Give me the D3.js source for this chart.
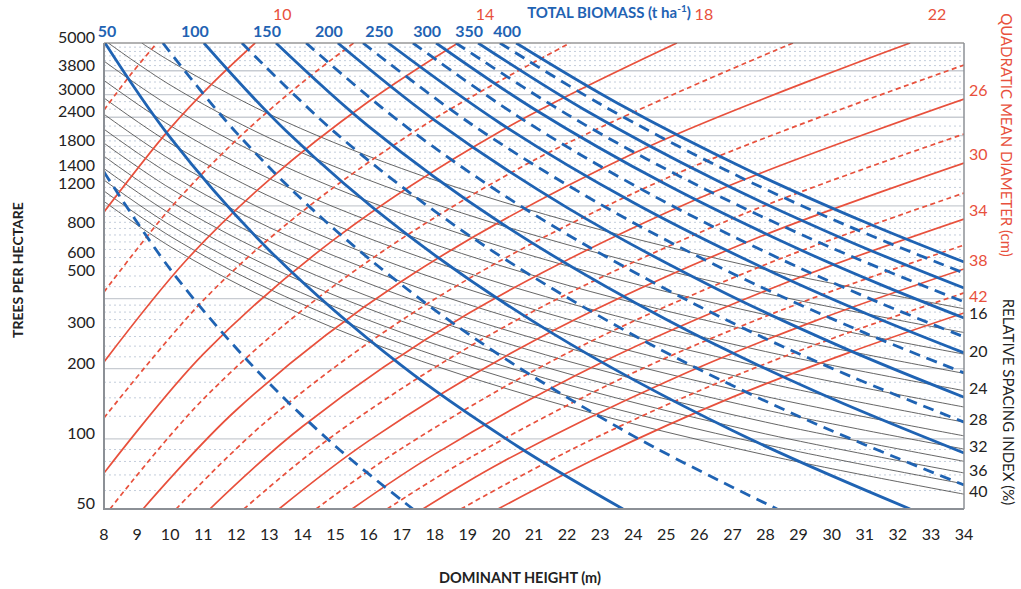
<!DOCTYPE html>
<html>
<head>
<meta charset="utf-8">
<script src="https://cdn.jsdelivr.net/npm/d3@7"></script>
<style>
  body { margin: 0; background: #fff; }
  svg text { font-family: Lato, "Open Sans", "Noto Sans", sans-serif; }
</style>
</head>
<body>
<svg id="chart" width="1021" height="589"></svg>
<script>
// Axis ticks
const heightTicks = [8,9,10,11,12,13,14,15,16,17,18,19,20,21,22,23,24,25,26,27,28,29,30,31,32,33,34];
const densityTicks = [5000,3800,3000,2400,1800,1400,1200,800,600,500,300,200,100,50];

// Horizontal reference lines (trees per hectare)
const gridMajor = [100,200,400,1000,2000,2400,3000,3800];
const gridMinor = [60,70,80,90,125,150,175,225,250,275,300,325,350,375,
  450,500,550,600,650,700,750,800,850,900,950,
  1100,1200,1300,1400,1500,1600,1700,1800,1900,2200,2600,2800,3200,3400,3600,4000,4200,4400,4600,4800];

// Quadratic mean diameter isolines (cm): points as [dominant height m, trees ha-1]
const diameterClasses = [8,10,12,14,16,18,20,22,24,26,28,30,32,34,36,38,40,42];
const diameterCurves = [
  [[8,2579],[8.8,3650],[9.6,5000]],
  [[8,941],[10,2150],[11.3,3380],[12.57,5000]],
  [[8,427],[10,975],[12,1916],[14,3390],[15.55,5000]],
  [[8,214],[10.5,587],[13,1297],[16,2803],[18.7,5000]],
  [[8,123],[11,393],[14,947],[18,2370],[22.09,5000]],
  [[8,71.3],[11,231],[15,725],[20,2095],[25.32,5000]],
  [[8.18,50],[11,148],[15,459],[21,1570],[28.83,5000]],
  [[9.18,50],[12,133],[17,475],[24,1676],[32.37,5000]],
  [[10.18,50],[13,122],[18,398],[25,1314],[34,4021]],
  [[11.2,50],[14,113],[19,344],[26,1080],[34,2875]],
  [[12.23,50],[15,105],[20,297],[27,882],[34,2034]],
  [[13.29,50],[16,98],[21,264],[27.5,705],[34,1527]],
  [[14.41,50],[17,91],[22,233],[28,560],[34,1135]],
  [[15.5,50],[18,86],[23,211],[28.5,461],[34,878]],
  [[16.56,50],[19,82],[24,192],[29,381],[34,679]],
  [[17.64,50],[20,79],[25,176],[29.5,321],[34,536]],
  [[18.79,50],[22,88],[26,161],[30,269],[34,423]],
  [[19.91,50],[23,84],[27,151],[30.5,234],[34,347]]
];
const diameterLabels = [10,14,18,22,26,30,34,38,42];

// Total biomass isolines (t ha-1)
const biomassClasses = [25,50,75,100,125,150,175,200,225,250,275,300,325,350,375,400];
const biomassCurves = [
  [[8,1397],[10,535],[12.5,205],[15,93],[17.34,50]],
  [[8.03,5000],[10,1966],[13,644],[17,206],[20.5,93],[23.69,50]],
  [[9.78,5000],[12,2063],[15,786],[19,283],[24,103],[28.35,50]],
  [[11.02,5000],[13.5,2100],[17,784],[21.5,287],[27,108.5],[32.37,50]],
  [[12.17,5000],[15,2056],[19,753],[24,279],[29,125],[34,63.4]],
  [[13.2,5000],[16,2194],[20,844],[25,325],[29.5,160],[34,87]],
  [[14.11,5000],[17,2261],[21,919],[26,370],[30,201],[34,118]],
  [[15.07,5000],[18,2329],[22,983],[26.5,442],[30.5,241],[34,151]],
  [[15.83,5000],[19,2296],[23,1017],[27,513],[31,285],[34,192]],
  [[16.59,5000],[20,2252],[24,1034],[28,536],[31,347],[34,234]],
  [[17.34,5000],[20.5,2429],[24.5,1126],[28.5,587],[31.5,381],[34,274]],
  [[18.04,5000],[21,2606],[25,1234],[29,653],[31.5,458],[34,330]],
  [[18.64,5000],[22,2470],[26,1213],[30,660],[34,387]],
  [[19.31,5000],[22.5,2598],[26.5,1290],[30.5,707],[34,444]],
  [[19.97,5000],[23,2735],[27,1378],[30.5,819],[34,515]],
  [[20.46,5000],[23.5,2772],[27.5,1419],[31,852],[34,574]]
];
const biomassLabels = [50,100,150,200,250,300,350,400];

// Relative spacing index isolines (%)
const spacingClasses = [16,18,20,22,24,26,28,30,32,34,36,38,40];
const spacingCurves = [
  [[9.14,5000],[10,4180],[13,2473],[17,1446],[22,864],[28,533],[34,362]],
  [[8.13,5000],[10,3302],[13,1954],[17,1143],[22,682],[28,421],[34,286]],
  [[8,4180],[10,2675],[13,1583],[17,926],[22,553],[28,341],[34,231]],
  [[8,3454],[10,2211],[13,1308],[17,765],[22,457],[28,282],[34,191]],
  [[8,2903],[10,1858],[13,1099],[17,643],[22,384],[28,237],[34,161]],
  [[8,2473],[10,1583],[13,937],[17,548],[22,327],[28,202],[34,137]],
  [[8,2133],[10,1365],[13,808],[17,472],[22,282],[28,174],[34,118]],
  [[8,1858],[10,1189],[13,704],[17,411],[22,246],[28,152],[34,103]],
  [[8,1633],[10,1045],[13,618],[17,362],[22,216],[28,133],[34,90.4]],
  [[8,1446],[10,926],[13,548],[17,320],[22,191],[28,118],[34,80.1]],
  [[8,1290],[10,826],[13,489],[17,286],[22,171],[28,105],[34,71.4]],
  [[8,1158],[10,741],[13,439],[17,256],[22,153],[28,94.5],[34,64.1]],
  [[8,1045],[10,669],[13,396],[17,231],[22,138],[28,85.3],[34,57.9]]
];
const spacingLabels = [16,20,24,28,32,36,40];

// ---- drawing ----
const RED = "#e8503c", BLUE = "#1f63b3", DARK = "#222";
const svg = d3.select("#chart");
const x = d3.scaleLinear().domain([8, 34]).range([104, 964]);
const y = d3.scaleLog().domain([50, 5000]).range([509, 43]);
const [x0, x1] = x.range(), [yb, yt] = y.range();

// push apart stacked labels so that neighbours keep at least `gap` px
function spread(items, gap) {
  items.sort((a, b) => a.y - b.y);
  for (let i = 1; i < items.length; i++) {
    const d = items[i].y - items[i - 1].y;
    if (d < gap) {
      const s = (gap - d) / 2;
      items[i - 1].y -= s;
      items[i].y += s;
    }
  }
  return items;
}

svg.append("defs").append("clipPath").attr("id", "plot")
  .append("rect").attr("x", x0).attr("y", yt).attr("width", x1 - x0).attr("height", yb - yt);

// reference lines
const grid = svg.append("g");
grid.selectAll(".minor").data(gridMinor).join("line")
  .attr("x1", x0).attr("x2", x1).attr("y1", d => y(d)).attr("y2", d => y(d))
  .attr("stroke", "#c3cddb").attr("stroke-width", 1).attr("stroke-dasharray", "2,3");
grid.selectAll(".major").data(gridMajor).join("line")
  .attr("x1", x0).attr("x2", x1).attr("y1", d => y(d)).attr("y2", d => y(d))
  .attr("stroke", "#c8ccd2").attr("stroke-width", 1.3);

const line = d3.line().x(d => x(d[0])).y(d => y(d[1])).curve(d3.curveCatmullRom.alpha(0.5));
const curves = svg.append("g").attr("clip-path", "url(#plot)");

curves.append("g").selectAll("path").data(spacingCurves).join("path")
  .attr("d", line).attr("fill", "none").attr("stroke", "#555").attr("stroke-width", 0.9);

curves.append("g").selectAll("path").data(diameterCurves).join("path")
  .attr("d", line).attr("fill", "none").attr("stroke", RED).attr("stroke-width", 1.7)
  .attr("stroke-dasharray", (d, i) => (diameterClasses[i] - 10) % 4 === 0 ? null : "5,3.5");

curves.append("g").selectAll("path").data(biomassCurves).join("path")
  .attr("d", line).attr("fill", "none").attr("stroke", BLUE).attr("stroke-width", 2.8)
  .attr("stroke-dasharray", (d, i) => biomassClasses[i] % 50 === 0 ? null : "11,7");

// plot frame
svg.append("line").attr("x1", x0).attr("x2", x1).attr("y1", yt).attr("y2", yt)
  .attr("stroke", "#666").attr("stroke-width", 1.2);
svg.append("line").attr("x1", x1).attr("x2", x1).attr("y1", yt).attr("y2", yb)
  .attr("stroke", "#8c9096").attr("stroke-width", 1.5);
svg.append("line").attr("x1", x0).attr("x2", x0).attr("y1", yt).attr("y2", yb + 1)
  .attr("stroke", "#8c9096").attr("stroke-width", 2);
svg.append("line").attr("x1", x0 - 1).attr("x2", x1).attr("y1", yb).attr("y2", yb)
  .attr("stroke", "#8c9096").attr("stroke-width", 2);

// axis tick labels
const densityLabelPos = spread(densityTicks.map(v => ({ v, y: y(v) })), 18);
svg.append("g").selectAll("text").data(densityLabelPos).join("text")
  .attr("x", 95).attr("y", d => d.y).attr("text-anchor", "end")
  .attr("font-size", 16).attr("fill", DARK).text(d => d.v);
svg.append("g").selectAll("text").data(heightTicks).join("text")
  .attr("x", d => x(d)).attr("y", 540).attr("text-anchor", "middle")
  .attr("font-size", 16).attr("fill", DARK).text(d => d);

// axis titles
svg.append("text").attr("x", 520).attr("y", 583).attr("text-anchor", "middle")
  .attr("font-size", 14.5).attr("font-weight", 700).attr("fill", DARK).text("DOMINANT HEIGHT (m)");
svg.append("text").attr("transform", "translate(23,270) rotate(-90)").attr("text-anchor", "middle")
  .attr("font-size", 14).attr("font-weight", 700).attr("fill", DARK).text("TREES PER HECTARE");
svg.append("text").attr("transform", "translate(1001,135) rotate(90)").attr("text-anchor", "middle")
  .attr("font-size", 15).attr("fill", RED).text("QUADRATIC MEAN DIAMETER (cm)");
svg.append("text").attr("transform", "translate(1003,402) rotate(90)").attr("text-anchor", "middle")
  .attr("font-size", 15).attr("fill", DARK).text("RELATIVE SPACING INDEX (%)");
const bt = svg.append("text").attr("x", 609).attr("y", 18).attr("text-anchor", "middle")
  .attr("font-size", 15).attr("font-weight", 700).attr("fill", BLUE);
bt.append("tspan").text("TOTAL BIOMASS (t ha");
bt.append("tspan").attr("dy", -6).attr("font-size", 10).text("-1");
bt.append("tspan").attr("dy", 6).text(")");

// isoline labels
const lastPt = c => c[c.length - 1];
const topY = y.domain()[1];

// biomass labels above the frame
svg.append("g").selectAll("text").data(biomassLabels).join("text")
  .attr("x", w => Math.max(107, x(biomassCurves[biomassClasses.indexOf(w)][0][0]) - 9))
  .attr("y", 37).attr("text-anchor", "middle").attr("font-size", 16).attr("font-weight", 700)
  .attr("fill", BLUE).text(w => w);

// diameter labels: on top when the line leaves through the top edge, else on the right
const dTop = diameterLabels.filter(v => lastPt(diameterCurves[diameterClasses.indexOf(v)])[1] >= topY);
const dRight = diameterLabels.filter(v => !dTop.includes(v));
svg.append("g").selectAll("text").data(dTop).join("text")
  .attr("x", v => x(lastPt(diameterCurves[diameterClasses.indexOf(v)])[0]) + 27)
  .attr("y", 20).attr("text-anchor", "middle").attr("font-size", 16).attr("fill", RED).text(v => v);

// right-hand labels (diameter in red above spacing index in black where they meet)
const rightLabels = spread(
  dRight.map(v => ({ v, color: RED,
      y: y(lastPt(diameterCurves[diameterClasses.indexOf(v)])[1]) - 3 }))
  .concat(spacingLabels.map(v => ({ v, color: DARK,
      y: y(lastPt(spacingCurves[spacingClasses.indexOf(v)])[1]) + 3 }))), 17);
svg.append("g").selectAll("text").data(rightLabels).join("text")
  .attr("x", x1 + 5).attr("y", d => d.y).attr("font-size", 16)
  .attr("fill", d => d.color).text(d => d.v);
</script>
</body>
</html>
